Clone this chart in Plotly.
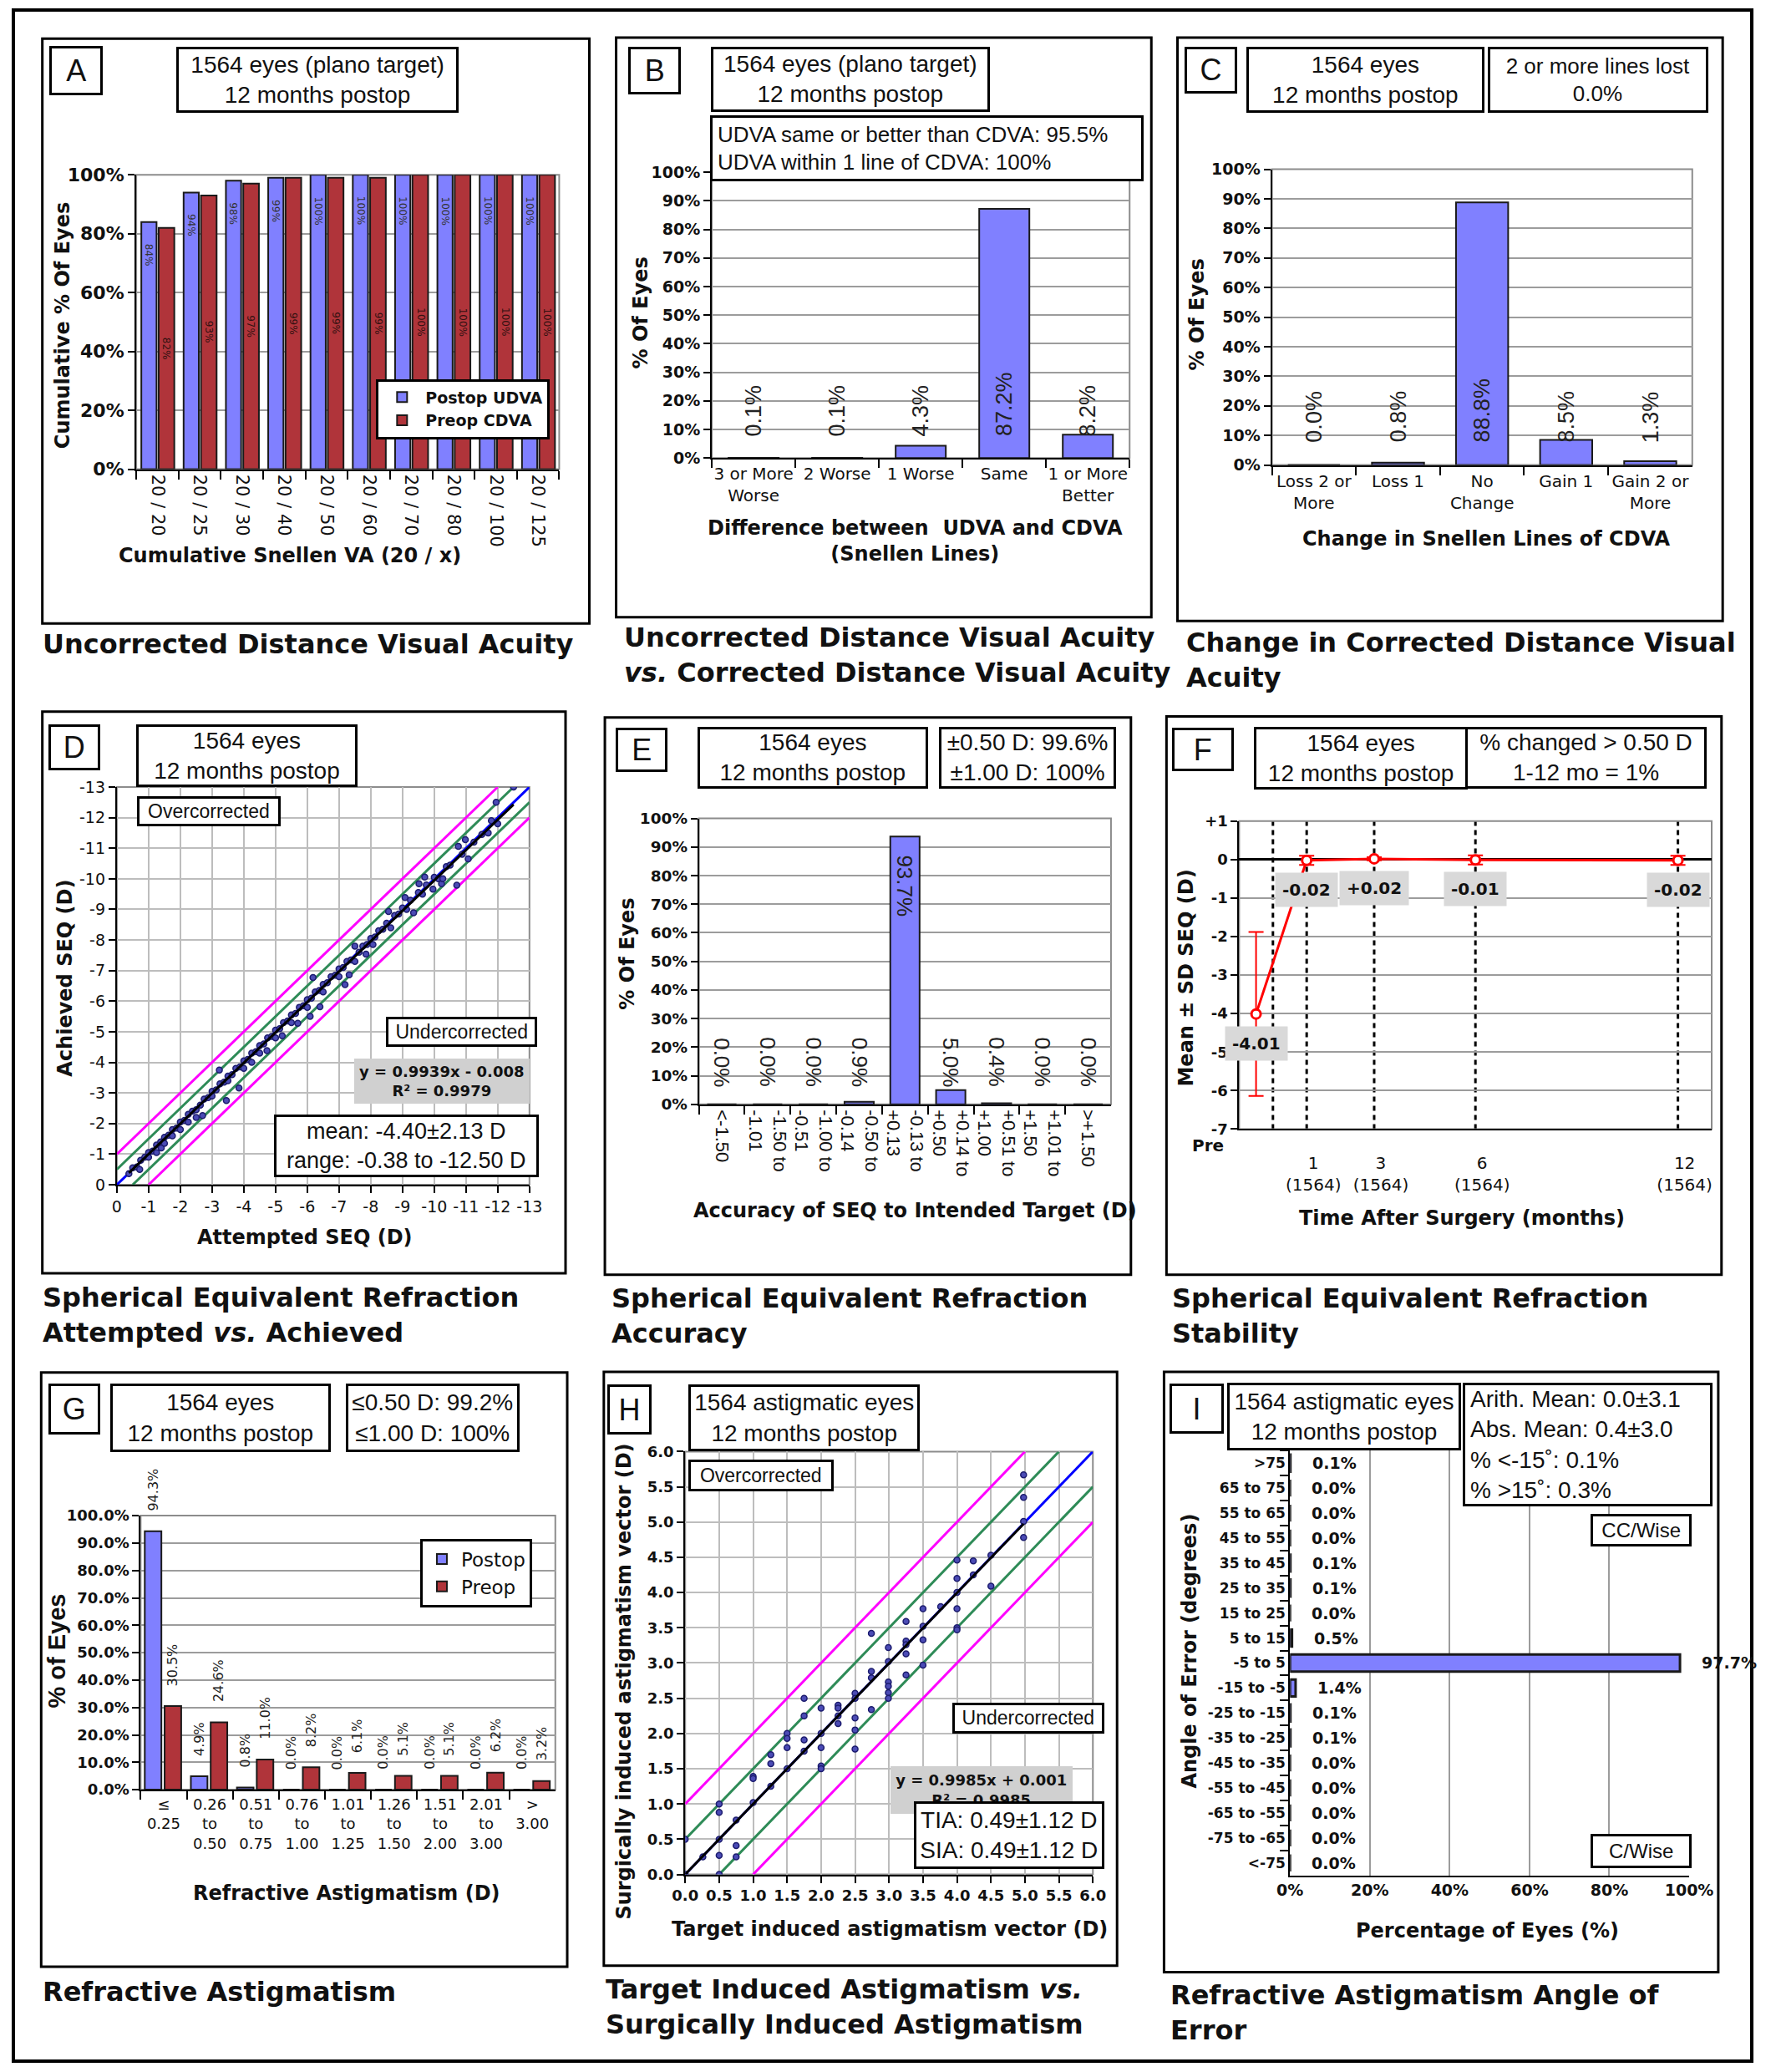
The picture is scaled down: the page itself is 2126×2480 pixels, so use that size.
import plotly.graph_objects as go

# ======================= DATA =======================
# A - cumulative Snellen VA
snellen_cats = ["20 / 20", "20 / 25", "20 / 30", "20 / 40", "20 / 50",
                "20 / 60", "20 / 70", "20 / 80", "20 / 100", "20 / 125"]
postop_udva_cum = [84, 94, 98, 99, 100, 100, 100, 100, 100, 100]
preop_cdva_cum = [82, 93, 97, 99, 99, 99, 100, 100, 100, 100]

# B - UDVA vs CDVA
udva_cdva_cats = ["3 or More<br>Worse", "2 Worse", "1 Worse", "Same", "1 or More<br>Better"]
udva_cdva_pct = [0.1, 0.1, 4.3, 87.2, 8.2]

# C - change in CDVA
cdva_change_cats = ["Loss 2 or<br>More", "Loss 1", "No<br>Change", "Gain 1", "Gain 2 or<br>More"]
cdva_change_pct = [0.0, 0.8, 88.8, 8.5, 1.3]

# D - attempted vs achieved SEQ
seq_attempted = [
    -0.38, -0.5, -0.63, -0.72, -0.75, -0.88, -1.0, -1.0, -1.13, -1.25,
    -1.25, -1.38, -1.4, -1.5, -1.5, -1.63, -1.75, -1.75, -1.88, -2.0,
    -2.0, -2.13, -2.25, -2.25, -2.38, -2.5, -2.5, -2.63, -2.7, -2.75,
    -2.88, -3.0, -3.0, -3.13, -3.23, -3.25, -3.38, -3.45, -3.5, -3.5,
    -3.63, -3.75, -3.85, -3.88, -4.0, -4.0, -4.13, -4.25, -4.25, -4.38,
    -4.5, -4.5, -4.63, -4.73, -4.75, -4.88, -5.0, -5.0, -5.13, -5.21,
    -5.25, -5.38, -5.5, -5.5, -5.63, -5.7, -5.75, -5.88, -6.0, -6.0,
    -6.09, -6.13, -6.18, -6.25, -6.38, -6.4, -6.5, -6.5, -6.63, -6.75,
    -6.88, -7.0, -7.0, -7.13, -7.19, -7.25, -7.32, -7.38, -7.5, -7.5,
    -7.63, -7.75, -7.85, -7.88, -8.0, -8.07, -8.13, -8.25, -8.38, -8.5,
    -8.56, -8.63, -8.75, -8.88, -9.0, -9.08, -9.13, -9.25, -9.35, -9.5,
    -9.52, -9.63, -9.7, -9.75, -9.96, -10.0, -10.13, -10.23, -10.27, -10.38,
    -10.5, -10.71, -10.76, -10.88, -10.98, -11.07, -11.25, -11.5, -11.7, -11.8,
    -12.0, -11.95, -12.5]
seq_achieved = [
    -0.36, -0.55, -0.58, -0.5, -0.8, -0.9, -1.05, -0.9, -1.1, -1.3,
    -1.05, -1.4, -1.2, -1.55, -1.35, -1.62, -1.8, -1.6, -1.85, -2.05,
    -1.8, -2.1, -2.3, -2.05, -2.4, -2.45, -2.2, -2.6, -2.26, -2.8,
    -2.85, -3.05, -2.9, -3.1, -3.75, -3.3, -3.35, -2.75, -3.55, -3.4,
    -3.6, -3.8, -3.16, -3.85, -4.05, -3.8, -4.1, -4.3, -4.0, -4.35,
    -4.55, -4.3, -4.6, -4.38, -4.8, -4.85, -5.05, -4.8, -5.1, -4.87,
    -5.3, -5.35, -5.55, -5.3, -5.6, -5.28, -5.8, -5.85, -6.05, -5.8,
    -5.5, -6.1, -6.77, -6.3, -6.35, -5.82, -6.55, -6.3, -6.6, -6.8,
    -6.85, -7.05, -6.8, -7.1, -6.54, -7.3, -6.86, -7.35, -7.8, -7.3,
    -7.6, -7.8, -7.54, -7.85, -8.05, -7.85, -8.1, -8.3, -8.35, -8.55,
    -8.93, -8.4, -8.8, -8.85, -9.05, -9.39, -9.0, -9.3, -8.89, -9.55,
    -9.84, -9.5, -10.06, -9.8, -9.66, -10.05, -10.0, -9.84, -10.0, -10.4,
    -10.45, -9.79, -11.06, -10.8, -11.28, -10.65, -11.2, -11.45, -11.5, -11.9,
    -11.8, -12.5, -13.0]
seq_fit_slope, seq_fit_intercept = 0.9939, -0.008
seq_axis_limit = -13
band_inner, band_outer = 0.5, 1.0

# E - SEQ accuracy
seq_acc_cats = ["<-1.50", "-1.50 to<br>-1.01", "-1.00 to<br>-0.51", "-0.50 to<br>-0.14",
                "-0.13 to<br>+0.13", "+0.14 to<br>+0.50", "+0.51 to<br>+1.00",
                "+1.01 to<br>+1.50", ">+1.50"]
seq_acc_pct = [0.0, 0.0, 0.0, 0.9, 93.7, 5.0, 0.4, 0.0, 0.0]

# F - SEQ stability ("Pre" is drawn half a month before surgery)
stab_months = [-0.5, 1, 3, 6, 12]
stab_mean = [-4.01, -0.02, 0.02, -0.01, -0.02]
stab_sd = [2.13, 0.12, 0.04, 0.12, 0.12]
stab_labels = ["-4.01", "-0.02", "+0.02", "-0.01", "-0.02"]
stab_tick_months = [1, 3, 6, 12]
stab_tick_text = ["1<br>(1564)", "3<br>(1564)", "6<br>(1564)", "12<br>(1564)"]
surgery_month = 0

# G - refractive astigmatism
astig_cats = ["≤<br>0.25", "0.26<br>to<br>0.50", "0.51<br>to<br>0.75", "0.76<br>to<br>1.00",
              "1.01<br>to<br>1.25", "1.26<br>to<br>1.50", "1.51<br>to<br>2.00",
              "2.01<br>to<br>3.00", "><br>3.00"]
astig_postop = [94.3, 4.9, 0.8, 0.0, 0.0, 0.0, 0.0, 0.0, 0.0]
astig_preop = [30.5, 24.6, 11.0, 8.2, 6.1, 5.1, 5.1, 6.2, 3.2]

# H - TIA vs SIA
tia = [0, 0, 0.26, 0.5, 0.5, 0.5, 0.5, 0.5, 0.75, 0.75, 0.75, 1.0, 1.0, 1.0,
       1.26, 1.26, 1.26, 1.5, 1.5, 1.5, 1.5, 1.75, 1.75, 1.75, 1.75,
       2.0, 2.0, 2.0, 2.0, 2.0, 2.25, 2.25, 2.25, 2.25, 2.5, 2.5, 2.5, 2.5, 2.5,
       2.74, 2.74, 2.74, 2.74, 2.99, 2.99, 2.99, 2.99, 2.99, 2.99,
       3.25, 3.25, 3.25, 3.25, 3.25, 3.5, 3.5, 3.5, 3.5, 3.76,
       4.0, 4.0, 4.0, 4.0, 4.0, 4.0, 4.24, 4.24, 4.5, 4.5, 4.98, 4.98, 4.98, 4.98]
sia = [0, 0.5, 0.25, 1.0, 0.88, 0.5, 0.27, 0, 0.77, 0.41, 0.25, 1.02, 1.39, 1.36,
       1.7, 1.57, 1.25, 2.0, 1.93, 1.8, 1.5, 2.5, 2.25, 1.91, 1.75,
       2.36, 2.0, 1.8, 1.54, 1.5, 2.4, 2.36, 2.25, 2.14, 2.57, 2.5, 2.22, 2.05, 1.78,
       3.42, 2.88, 2.79, 2.34, 3.22, 3.02, 2.73, 2.67, 2.58, 2.5,
       3.59, 3.31, 3.26, 3.13, 2.83, 3.77, 3.52, 3.33, 2.97, 3.8,
       4.46, 4.2, 4.0, 3.77, 3.5, 3.47, 4.45, 4.25, 4.53, 4.09, 5.67, 5.35, 5.01, 4.78]
sia_fit_slope, sia_fit_intercept = 0.9985, 0.001
sia_axis_limit = 6

# I - angle of error
aoe_cats = [">75", "65 to 75", "55 to 65", "45 to 55", "35 to 45", "25 to 35", "15 to 25",
            "5 to 15", "-5 to 5", "-15 to -5", "-25 to -15", "-35 to -25", "-45 to -35",
            "-55 to -45", "-65 to -55", "-75 to -65", "<-75"]
aoe_pct = [0.1, 0.0, 0.0, 0.0, 0.1, 0.1, 0.0, 0.5, 97.7, 1.4, 0.1, 0.1, 0.0, 0.0, 0.0, 0.0, 0.0]

# ======================= STYLE / HELPERS =======================
W, H = 2126, 2480
DW, DH = 1344.0, 1568.0          # layout grid the positions below are measured on
S = W / DW

def px(x): return x / DW
def py(y): return 1 - y / DH

VERD = "DejaVu Sans"
ARI = "Liberation Sans"
INK = "#111111"
BLUE = "#8080FF"
RED = "#B0343A"
GRID = "#9C9C9C"
FRAME = "#8C8C8C"
MAG = "#FF00FF"
GREEN = "#2E8B57"

fig = go.Figure()
axes = {}

def tf(size, bold=False, family=VERD, color=INK):
    return dict(family=family, size=size, color=color, weight="bold" if bold else "normal")

def base_axis(**kw):
    d = dict(showline=True, linecolor="black", linewidth=2, ticks="outside", ticklen=8,
             tickwidth=2, tickcolor="black", showgrid=False, zeroline=False, fixedrange=True)
    d.update(kw)
    return d

def add_axes(n, x0, x1, y0, y1, xa, ya):
    s = "" if n == 1 else str(n)
    xa["domain"] = [px(x0), px(x1)]
    ya["domain"] = [py(y1), py(y0)]
    xa["anchor"] = "y" + s
    ya["anchor"] = "x" + s
    axes["xaxis" + s] = xa
    axes["yaxis" + s] = ya
    return "x" + s, "y" + s

def note(text, x, y, size, family=ARI, bold=False, **kw):
    d = dict(text=text, x=x, y=y, xref="paper", yref="paper", showarrow=False,
             font=tf(size, bold, family))
    d.update(kw)
    fig.add_annotation(**d)

def box(x0, y0, x1, y1, text, size=28, family=ARI, bold=False, bw=3, bg="white",
        align="center", border=True, pad=0):
    w = (x1 - x0) * S
    h = (y1 - y0) * S
    fig.add_annotation(text=text, xref="paper", yref="paper", x=px((x0 + x1) / 2),
                       y=py((y0 + y1) / 2), xanchor="center", yanchor="middle",
                       width=w - 2 * bw - 2 * pad, height=h - 2 * bw - 2 * pad,
                       showarrow=False, align=align, valign="middle", bgcolor=bg,
                       bordercolor="black" if border else bg,
                       borderwidth=bw if border else 0, borderpad=pad,
                       font=tf(size, bold, family))

def frame(x0, y0, x1, y1, width=3):
    fig.add_shape(type="rect", xref="paper", yref="paper", x0=px(x0), x1=px(x1),
                  y0=py(y1), y1=py(y0), line=dict(color="black", width=width), layer="above")

def plot_frame(xa, ya, color=FRAME):
    fig.add_shape(type="rect", xref=xa + " domain", yref=ya + " domain", x0=0, x1=1,
                  y0=0, y1=1, line=dict(color=color, width=2), layer="below")

def caption(x, ys, text):
    yc = sum(ys) / len(ys)
    note(text, px(x), py(yc), 32, VERD, True, xanchor="left", yanchor="middle", align="left")

def atitle(text, xc, yc, angle=0, size=24, family=VERD, bold=True):
    note(text, px(xc), py(yc), size, family, bold, xanchor="center", yanchor="middle",
         textangle=angle)

def pct_axis(dtick, tick_size, fmt=""):
    return base_axis(range=[0, 100], dtick=dtick, ticksuffix="%", tickformat=fmt,
                     showgrid=True, gridcolor=GRID, gridwidth=2, tickfont=tf(tick_size, True))

def cat_axis(tick_font, angle=0, **kw):
    return base_axis(type="category", tickson="boundaries", ticklen=10, tickangle=angle,
                     tickfont=tick_font, **kw)

BAR_LINE = dict(color="#1a1a1a", width=2)

# ======================= PANEL A =======================
xa, ya = add_axes(1, 95, 422, 126, 351, cat_axis(tf(21), 90), pct_axis(20, 22))
fig.add_trace(go.Bar(x=snellen_cats, y=postop_udva_cum, name="Postop UDVA", width=0.36,
                     offset=-0.38, marker=dict(color=BLUE, line=BAR_LINE), xaxis=xa, yaxis=ya,
                     legend="legend", legendgroup="a1"))
fig.add_trace(go.Bar(x=snellen_cats, y=preop_cdva_cum, name="Preop CDVA", width=0.37,
                     offset=0.03, marker=dict(color=RED, line=BAR_LINE), xaxis=xa, yaxis=ya,
                     legend="legend", legendgroup="a2"))
for i, v in enumerate(postop_udva_cum):
    fig.add_annotation(x=i - 0.2, y=v, xref=xa, yref=ya, text=f"{v}%", textangle=90,
                       yanchor="top", yshift=-24, showarrow=False, font=tf(12, color="#333333"))
for i, v in enumerate(preop_cdva_cum):
    fig.add_annotation(x=i + 0.215, y=v / 2, xref=xa, yref=ya, text=f"{v}%", textangle=90,
                       yanchor="middle", showarrow=False, font=tf(12, color="#331111"))
plot_frame(xa, ya)
frame(22.4, 21.8, 445.3, 468.9)
box(28, 28, 68.7, 65.2, "A", 36)
box(128.2, 28, 342, 78.2, "1564 eyes (plano target)<br>12 months postop", 28)
atitle("Cumulative Snellen VA (20 / x)", 214, 417)
atitle("Cumulative % Of Eyes", 38, 241, -90)
caption(21.6, [485], "Uncorrected Distance Visual Acuity")

# ======================= PANEL B =======================
xa, ya = add_axes(2, 540, 863, 124, 342.5, cat_axis(tf(20)), pct_axis(10, 19))
fig.add_trace(go.Bar(x=udva_cdva_cats, y=udva_cdva_pct, width=0.6,
                     marker=dict(color=BLUE, line=BAR_LINE), xaxis=xa, yaxis=ya, showlegend=False))
for i, v in enumerate(udva_cdva_pct):
    fig.add_annotation(x=i, y=7, xref=xa, yref=ya, text=f"{v:.1f}%", textangle=-90,
                       yanchor="bottom", showarrow=False, font=tf(27, family=ARI, color="#222"))
plot_frame(xa, ya)
frame(466, 21, 879.8, 464.2)
box(475.4, 28.3, 515.4, 64.4, "B", 36)
box(541.6, 28.3, 752.5, 77.3, "1564 eyes (plano target)<br>12 months postop", 28)
box(542, 80.8, 870, 130.8,
    "UDVA same or better than CDVA: 95.5%<br>UDVA within 1 line of CDVA: 100%",
    26, align="left", pad=6)
atitle("Difference between  UDVA and CDVA<br>(Snellen Lines)", 697, 406)
atitle("% Of Eyes", 484.7, 231.2, -90)
caption(471, [481, 505], "Uncorrected Distance Visual Acuity<br><i>vs.</i> Corrected Distance Visual Acuity")

# ======================= PANEL C =======================
xa, ya = add_axes(3, 973, 1298, 121.7, 347.8, cat_axis(tf(20)), pct_axis(10, 19))
fig.add_trace(go.Bar(x=cdva_change_cats, y=cdva_change_pct, width=0.62,
                     marker=dict(color=BLUE, line=BAR_LINE), xaxis=xa, yaxis=ya, showlegend=False))
for i, v in enumerate(cdva_change_pct):
    fig.add_annotation(x=i, y=7, xref=xa, yref=ya, text=f"{v:.1f}%", textangle=-90,
                       yanchor="bottom", showarrow=False, font=tf(27, family=ARI, color="#222"))
plot_frame(xa, ya)
frame(900, 21, 1321.5, 467)
box(905.6, 28.3, 945.4, 63.7, "C", 36)
box(955.4, 28.3, 1135.4, 78.2, "1564 eyes<br>12 months postop", 28)
box(1141.5, 28.3, 1308.2, 78.2, "2 or more lines lost<br>0.0%", 26)
atitle("Change in Snellen Lines of CDVA", 1138.7, 404.6)
atitle("% Of Eyes", 915.8, 232.8, -90)
caption(905.6, [484, 510], "Change in Corrected Distance Visual<br>Acuity")

# ======================= PANEL D =======================
d_ticks = list(range(0, seq_axis_limit - 1, -1))
d_axis = lambda: base_axis(range=[0, seq_axis_limit], tickvals=d_ticks,
                           ticktext=[str(v) for v in d_ticks], tickangle=0, showgrid=True,
                           gridcolor="#BDBDBD", gridwidth=2, tickfont=tf(19))
xa, ya = add_axes(4, 80, 399, 594, 898, d_axis(), d_axis())
L = seq_axis_limit
for d, col in [(band_outer, MAG), (band_inner, GREEN)]:
    fig.add_trace(go.Scatter(x=[0, L + d], y=[-d, L], mode="lines", line=dict(color=col, width=3),
                             xaxis=xa, yaxis=ya, showlegend=False))
    fig.add_trace(go.Scatter(x=[-d, L], y=[0, L + d], mode="lines", line=dict(color=col, width=3),
                             xaxis=xa, yaxis=ya, showlegend=False))
fig.add_trace(go.Scatter(x=[0, L], y=[0, L], mode="lines", line=dict(color="#0000FF", width=3),
                         xaxis=xa, yaxis=ya, showlegend=False))
fig.add_trace(go.Scatter(x=seq_attempted, y=seq_achieved, mode="markers",
                         marker=dict(size=7, color="#4B4BB5", line=dict(color="#1C1C6E", width=1.5)),
                         xaxis=xa, yaxis=ya, showlegend=False))
fx0, fx1 = max(seq_attempted), min(seq_attempted)
fig.add_trace(go.Scatter(x=[fx0, fx1],
                         y=[seq_fit_slope * fx0 + seq_fit_intercept, seq_fit_slope * fx1 + seq_fit_intercept],
                         mode="lines", line=dict(color="black", width=3), xaxis=xa, yaxis=ya,
                         showlegend=False))
plot_frame(xa, ya)
frame(22.4, 536.4, 426.9, 965.7)
box(27.6, 546.5, 66.6, 581, "D", 36)
box(97, 546.5, 264.5, 593.9, "1564 eyes<br>12 months postop", 28)
box(97, 600.8, 205.7, 623.7, "Overcorrected", 23)
box(289.2, 769.7, 403.9, 792.4, "Undercorrected", 23)
box(263.4, 800.2, 399.7, 837.9, "y = 0.9939x - 0.008<br>R² = 0.9979", 18, VERD, True,
    bg="#D0D0D0", border=False)
box(203.8, 844.2, 403.9, 891.9, "mean: -4.40±2.13 D<br>range: -0.38 to -12.50 D", 27)
atitle("Attempted SEQ (D)", 225.6, 938.4)
atitle("Achieved SEQ (D)", 40.1, 740, -90)
caption(21.5, [986, 1009], "Spherical Equivalent Refraction<br>Attempted <i>vs.</i> Achieved")

# ======================= PANEL E =======================
xa, ya = add_axes(5, 530, 848.6, 618, 836.6, cat_axis(tf(22, family=ARI), 90), pct_axis(10, 18.5))
fig.add_trace(go.Bar(x=seq_acc_cats, y=seq_acc_pct, width=0.64,
                     marker=dict(color=BLUE, line=BAR_LINE), xaxis=xa, yaxis=ya, showlegend=False))
for i, v in enumerate(seq_acc_pct):
    fig.add_annotation(x=i, y=(v - 6 if v > 50 else 24), xref=xa, yref=ya, text=f"{v:.1f}%",
                       textangle=90, yanchor="top", showarrow=False,
                       font=tf(26, family=ARI, color="#222"))
plot_frame(xa, ya)
frame(457.3, 540.8, 864, 966.8)
box(466.2, 548.6, 505.6, 582.4, "E", 36)
box(530.6, 548.6, 704.9, 595.1, "1564 eyes<br>12 months postop", 28)
box(716.7, 548.6, 850.8, 595.1, "±0.50 D: 99.6%<br>±1.00 D: 100%", 28)
atitle("Accuracy of SEQ to Intended Target (D)", 697, 917.6)
atitle("% Of Eyes", 474.9, 721.3, -90)
caption(460.9, [986.4, 1009.6], "Spherical Equivalent Refraction<br>Accuracy")

# ======================= PANEL F =======================
f_ticks = list(range(-7, 2))
xa, ya = add_axes(6, 947.7, 1313, 620, 855.5,
                  base_axis(range=[-1, 13], tickvals=stab_tick_months, ticktext=stab_tick_text,
                            ticks="", ticklabelstandoff=22, ticklabelshift=8, tickfont=tf(20)),
                  base_axis(range=[-7, 1], tickvals=f_ticks,
                            ticktext=[("+%d" % v) if v > 0 else str(v) for v in f_ticks],
                            showgrid=True, gridcolor=GRID, gridwidth=2, zeroline=True,
                            zerolinecolor="black", zerolinewidth=3, tickfont=tf(18, True)))
for m in [surgery_month] + stab_tick_months:
    fig.add_shape(type="line", xref=xa, yref=ya + " domain", x0=m, x1=m, y0=0, y1=1,
                  line=dict(color="black", width=3, dash="6px,5px"), layer="below")
fig.add_trace(go.Scatter(x=stab_months, y=stab_mean, mode="lines+markers",
                         line=dict(color="#FF0000", width=3),
                         marker=dict(symbol="circle", size=11, color="white",
                                     line=dict(color="#FF0000", width=3)),
                         error_y=dict(type="data", array=stab_sd, visible=True, color="#FF0000",
                                      thickness=2, width=9),
                         xaxis=xa, yaxis=ya, showlegend=False, cliponaxis=False))
for m, v, t in zip(stab_months, stab_mean, stab_labels):
    fig.add_annotation(x=m, y=v, xref=xa, yref=ya, text=t, showarrow=False, yshift=-35,
                       bgcolor="#D9D9D9", borderpad=8, font=tf(20, True))
plot_frame(xa, ya)
frame(891.5, 540, 1320.6, 966.8)
box(896.2, 548.6, 942.7, 581.7, "F", 36)
box(960.7, 548.6, 1122.7, 595.7, "1564 eyes<br>12 months postop", 28)
box(1124.1, 548.6, 1306.9, 595.1, "% changed &gt; 0.50 D<br>1-12 mo = 1%", 28)
note("Pre", px(937), py(868), 20, VERD, True)
atitle("Time After Surgery (months)", 1119.9, 923.7)
atitle("Mean ± SD SEQ (D)", 906.7, 740, -90)
caption(894.3, [986.4, 1009.6], "Spherical Equivalent Refraction<br>Stability")

# ======================= PANEL G =======================
xa, ya = add_axes(7, 98.4, 419, 1151, 1360.5, cat_axis(tf(18)), pct_axis(10, 18, ".1f"))
fig.add_trace(go.Bar(x=astig_cats, y=astig_postop, name="Postop", width=0.36, offset=-0.41,
                     marker=dict(color=BLUE, line=BAR_LINE), xaxis=xa, yaxis=ya,
                     legend="legend2", legendgroup="g1"))
fig.add_trace(go.Bar(x=astig_cats, y=astig_preop, name="Preop", width=0.36, offset=0.02,
                     marker=dict(color=RED, line=BAR_LINE), xaxis=xa, yaxis=ya,
                     legend="legend2", legendgroup="g2"))
for i, v in enumerate(astig_postop):
    fig.add_annotation(x=i - 0.23, y=v, xref=xa, yref=ya, text=f"{v:.1f}%", textangle=-90,
                       yanchor="bottom", yshift=22, showarrow=False, font=tf(16, color="#222"))
for i, v in enumerate(astig_preop):
    fig.add_annotation(x=i + 0.2, y=v, xref=xa, yref=ya, text=f"{v:.1f}%", textangle=-90,
                       yanchor="bottom", yshift=22, showarrow=False, font=tf(16, color="#222"))
plot_frame(xa, ya)
frame(21.5, 1041.5, 428.2, 1495.8)
box(27.6, 1050.2, 66.6, 1089, "G", 36)
box(76.7, 1050.2, 243.3, 1101.8, "1564 eyes<br>12 months postop", 28)
box(258.7, 1050.2, 389.9, 1101.8, "≤0.50 D: 99.2%<br>≤1.00 D: 100%", 28)
atitle("Refractive Astigmatism (D)", 257.9, 1439.4)
atitle("% of Eyes", 33.5, 1254.2, -90, 29, ARI)
caption(21.5, [1515], "Refractive Astigmatism")

# ======================= PANEL H =======================
h_axis = lambda: base_axis(range=[0, sia_axis_limit], dtick=0.5, tick0=0, tickformat=".1f",
                           tickangle=0, showgrid=True, gridcolor="#BDBDBD", gridwidth=2,
                           tickfont=tf(18, True))
xa, ya = add_axes(8, 519.4, 834.6, 1102, 1425.3, h_axis(), h_axis())
M = sia_axis_limit
for d, col in [(band_outer, MAG), (band_inner, GREEN)]:
    fig.add_trace(go.Scatter(x=[0, M - d], y=[d, M], mode="lines", line=dict(color=col, width=3),
                             xaxis=xa, yaxis=ya, showlegend=False))
    fig.add_trace(go.Scatter(x=[d, M], y=[0, M - d], mode="lines", line=dict(color=col, width=3),
                             xaxis=xa, yaxis=ya, showlegend=False))
fig.add_trace(go.Scatter(x=[0, M], y=[0, M], mode="lines", line=dict(color="#0000FF", width=3),
                         xaxis=xa, yaxis=ya, showlegend=False))
fig.add_trace(go.Scatter(x=tia, y=sia, mode="markers",
                         marker=dict(size=7, color="#4B4BB5", line=dict(color="#1C1C6E", width=1.5)),
                         xaxis=xa, yaxis=ya, showlegend=False))
hx0, hx1 = min(tia), max(tia)
fig.add_trace(go.Scatter(x=[hx0, hx1],
                         y=[sia_fit_slope * hx0 + sia_fit_intercept, sia_fit_slope * hx1 + sia_fit_intercept],
                         mode="lines", line=dict(color="black", width=3), xaxis=xa, yaxis=ya,
                         showlegend=False))
plot_frame(xa, ya)
frame(456.5, 1041, 853.3, 1495.1)
box(459.8, 1050.6, 493.2, 1088.8, "H", 36)
box(523.3, 1050.6, 698.7, 1101.4, "1564 astigmatic eyes<br>12 months postop", 28)
box(523.3, 1108, 633, 1132.3, "Overcorrected", 23)
box(727, 1294.1, 841.8, 1317.4, "Undercorrected", 23)
box(678.2, 1340.6, 819.5, 1380.5, "y = 0.9985x + 0.001<br>R² = 0.9985", 18, VERD, True,
    bg="#D0D0D0", border=False)
box(697.9, 1369.5, 841.8, 1420.4, "TIA: 0.49±1.12 D<br>SIA: 0.49±1.12 D", 28)
atitle("Target induced astigmatism vector (D)", 677.4, 1466.8)
atitle("Surgically induced astigmatism vector (D)", 471.9, 1278, -90)
caption(456.5, [1514.3, 1538.9], "Target Induced Astigmatism <i>vs.</i><br>Surgically Induced Astigmatism")

# ======================= PANEL I =======================
xa, ya = add_axes(9, 987, 1295.6, 1101.3, 1426,
                  base_axis(range=[0, 100], dtick=20, ticksuffix="%", ticks="", showgrid=True,
                            gridcolor=GRID, gridwidth=2, tickfont=tf(19, True)),
                  cat_axis(tf(17, True), 0, autorange="reversed"))
fig.add_trace(go.Bar(x=aoe_pct, y=aoe_cats, orientation="h", width=0.68,
                     marker=dict(color=BLUE, line=dict(color="#1a1a1a", width=3)),
                     xaxis=xa, yaxis=ya, showlegend=False))
for c, v in zip(aoe_cats, aoe_pct):
    fig.add_annotation(x=v, y=c, xref=xa, yref=ya, text=f"{v:.1f}%", xanchor="left", xshift=24,
                       showarrow=False, font=tf(19, True))
frame(889.6, 1041, 1318.1, 1500)
box(894.4, 1049.9, 935.4, 1088.1, "I", 36)
box(940.2, 1049.9, 1117.2, 1100.8, "1564 astigmatic eyes<br>12 months postop", 28)
box(1122.8, 1049.9, 1311.9, 1143.6,
    "Arith. Mean: 0.0±3.1<br>Abs. Mean: 0.4±3.0<br>% &lt;-15˚: 0.1%<br>% &gt;15˚: 0.3%",
    28, align="left", pad=6)
box(1219.8, 1149.6, 1296.5, 1174.5, "CC/Wise", 24)
box(1219.8, 1394.7, 1296.5, 1420.4, "C/Wise", 24)
atitle("Percentage of Eyes (%)", 1139.7, 1468.5)
atitle("Angle of Error (degrees)", 909.3, 1254.2, -90)
caption(893.3, [1518.3, 1543.2], "Refractive Astigmatism Angle of<br>Error")

# ======================= LAYOUT =======================
fig.add_shape(type="rect", xref="paper", yref="paper", x0=0, x1=1, y0=0, y1=1,
              line=dict(color="black", width=4), layer="above")

fig.update_layout(
    width=W, height=H, margin=dict(l=0, r=0, t=0, b=0),
    paper_bgcolor="white", plot_bgcolor="white",
    barmode="overlay", hovermode=False,
    font=dict(family=VERD, color=INK),
    legend=dict(x=px(280.5), y=py(282), xanchor="left", yanchor="top", bgcolor="white",
                bordercolor="black", borderwidth=3, font=tf(19, True), tracegroupgap=22,
                itemwidth=46, traceorder="normal"),
    legend2=dict(x=px(314.5), y=py(1168.5), xanchor="left", yanchor="top", bgcolor="white",
                 bordercolor="black", borderwidth=3, font=tf(23), tracegroupgap=8,
                 itemwidth=36, traceorder="normal"),
    **axes,
)

fig.write_html("out.html", config={"displayModeBar": False},
               post_script="document.body.style.margin='0px';"
                           "document.body.style.overflow='hidden';")
